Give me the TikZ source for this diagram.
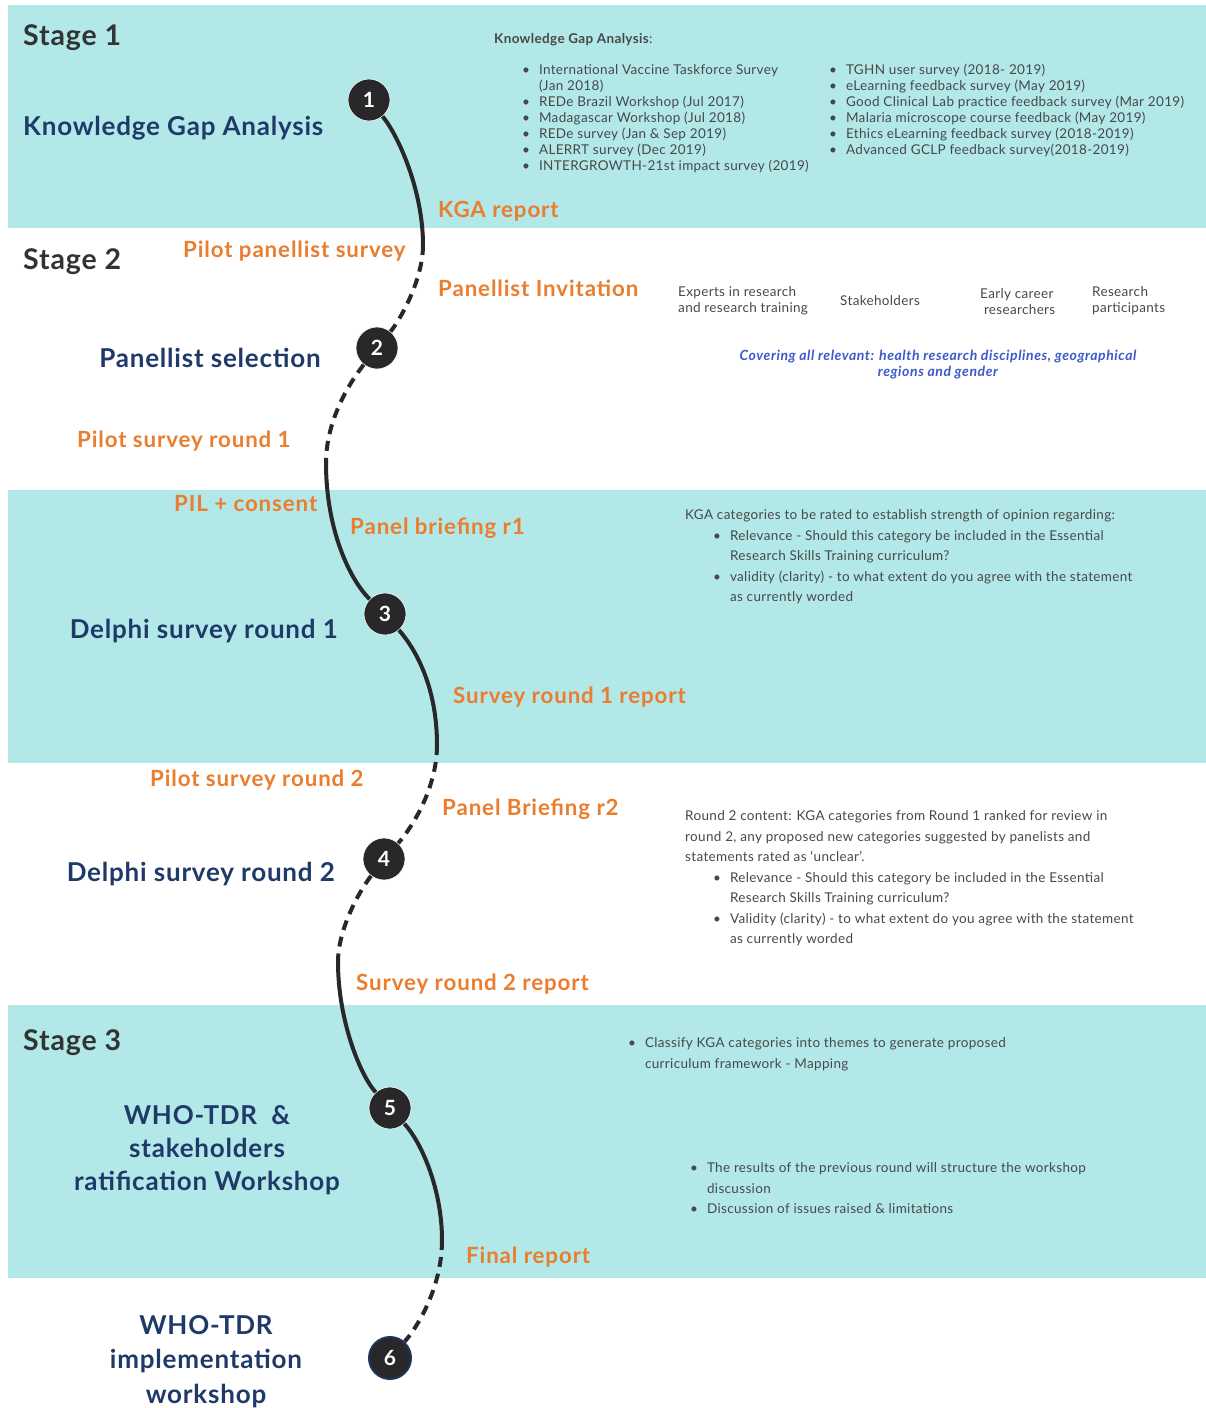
\documentclass[tikz,border=0pt]{standalone}
\usepackage{fontspec}
\setmainfont{Lato}
\newfontfamily\bodyfont[LetterSpace=2.5]{Lato}
\newfontfamily\headfont[LetterSpace=3]{Lato}
\newfontfamily\labfont[LetterSpace=4]{Lato}
\newfontfamily\covfont[LetterSpace=4]{Lato}
\definecolor{tealband}{RGB}{178,232,232}
\definecolor{orng}{RGB}{234,125,46}
\definecolor{navy}{RGB}{31,58,104}
\definecolor{headgray}{RGB}{51,51,51}
\definecolor{bodygray}{RGB}{72,72,72}
\definecolor{covblue}{RGB}{60,90,200}
\definecolor{dot}{RGB}{40,40,42}
\definecolor{ringnavy}{RGB}{30,55,90}
\begin{document}
\begin{tikzpicture}[x=1pt,y=-1pt,
  band/.style={fill=tealband,draw=none},
  stagehead/.style={anchor=west,inner sep=0,font=\headfont\bfseries\fontsize{28.5}{30}\selectfont,text=headgray},
  title/.style={inner sep=0,font=\headfont\bfseries\fontsize{26}{33}\selectfont,text=navy,align=center},
  olabel/.style={anchor=west,inner sep=0,font=\labfont\bfseries\fontsize{22.3}{24}\selectfont,text=orng},
  stepnum/.style={circle,fill=dot,draw=white,line width=0.6pt,minimum size=42pt,inner sep=0,text=white,font=\bfseries\fontsize{21}{24}\selectfont},
  body/.style={anchor=north west,inner sep=0,font=\bodyfont\fontsize{13.5}{16}\selectfont,text=bodygray,align=left},
  small/.style={anchor=west,inner sep=0,font=\bodyfont\fontsize{13.5}{16}\selectfont,text=bodygray,align=left},
  trail/.style={line width=4pt,draw=dot},
  dashtrail/.style={trail,dash pattern=on 10pt off 7pt}
]
\useasboundingbox (0,0) rectangle (1206,1408);
\fill[white] (0,0) rectangle (1206,1408);
% bands
\fill[band] (8,5) rectangle (1206,228);
\fill[band] (8,490) rectangle (1206,763);
\fill[band] (8,1005) rectangle (1206,1278);

% stage headings
\node[stagehead] (st1) at (23,38) {Stage 1};
\node[stagehead] (st2) at (23,262) {Stage 2};
\node[stagehead] (st3) at (23,1043) {Stage 3};

% titles
\node[title,anchor=west] (t1) at (23,128) {Knowledge Gap Analysis};
\node[title,anchor=east] (t2) at (321,358) {Panellist selection};
\node[title,anchor=east] (t3) at (338,631) {Delphi survey round 1};
\node[title,anchor=east] (t4) at (335,874) {Delphi survey round 2};
\node[title] (t5) at (207,1150) {WHO-TDR\ \ \&\\stakeholders\\ratification Workshop};
\node[title,anchor=north,font=\headfont\bfseries\fontsize{26}{34.5}\selectfont] (t6) at (206,1315) {WHO-TDR\\implementation\\workshop};

% step circles
\node[stepnum] (c1) at (369,100) {1};
\node[stepnum] (c2) at (377,348) {2};
\node[stepnum] (c3) at (385,614) {3};
\node[stepnum] (c4) at (384,859) {4};
\node[stepnum] (c5) at (390,1108) {5};
\node[stepnum,draw=ringnavy,line width=2pt] (c6) at (390,1358) {6};

% switch points
\coordinate (s1) at (423,245);
\coordinate (s2) at (326,463);
\coordinate (s3) at (437,745);
\coordinate (s4) at (338,962);
\coordinate (s5) at (442,1240);

\draw[trail] (c1) .. controls (398,135) and (423,190) .. (s1);
\draw[dashtrail] (s1) .. controls (423,280) and (400,320) .. (c2);
\draw[dashtrail] (c2) .. controls (350,382) and (326,420) .. (s2);
\draw[trail] (s2) .. controls (326,530) and (350,580) .. (c3);
\draw[trail] (c3) .. controls (418,652) and (437,690) .. (s3);
\draw[dashtrail] (s3) .. controls (437,790) and (410,830) .. (c4);
\draw[dashtrail] (c4) .. controls (358,893) and (338,930) .. (s4);
\draw[trail] (s4) .. controls (338,1020) and (360,1075) .. (c5);
\draw[trail] (c5) .. controls (422,1143) and (442,1190) .. (s5);
\draw[dashtrail] (s5) .. controls (442,1290) and (415,1330) .. (c6);

% orange labels
\node[olabel] (l1) at (438,211) {KGA report};
\node[olabel] (l2) at (183,251) {Pilot panellist survey};
\node[olabel] (l3) at (438,288) {Panellist Invitation};
\node[olabel] (l4) at (77,441) {Pilot survey round 1};
\node[olabel] (l5) at (174,504) {PIL + consent};
\node[olabel] (l6) at (350,528) {Panel briefing r1};
\node[olabel] (l7) at (453,697) {Survey round 1 report};
\node[olabel] (l8) at (150,780) {Pilot survey round 2};
\node[olabel] (l9) at (442,809) {Panel Briefing r2};
\node[olabel] (l10) at (356,984) {Survey round 2 report};
\node[olabel] (l11) at (466,1257) {Final report};

% stage 1 text
\node[small] (kgahead) at (494,40) {\textbf{Knowledge Gap Analysis}:};
\node[body] (kgalist1) at (522,63) {\begin{tabular}{@{}l@{\hspace{9pt}}l@{}}
\textbullet & International Vaccine Taskforce Survey\\
 & (Jan 2018)\\
\textbullet & REDe Brazil Workshop (Jul 2017)\\
\textbullet & Madagascar Workshop (Jul 2018)\\
\textbullet & REDe survey (Jan \& Sep 2019)\\
\textbullet & ALERRT survey (Dec 2019)\\
\textbullet & INTERGROWTH-21st impact survey (2019)
\end{tabular}};
\node[body] (kgalist2) at (829,63) {\begin{tabular}{@{}l@{\hspace{9pt}}l@{}}
\textbullet & TGHN user survey (2018- 2019)\\
\textbullet & eLearning feedback survey (May 2019)\\
\textbullet & Good Clinical Lab practice feedback survey (Mar 2019)\\
\textbullet & Malaria microscope course feedback (May 2019)\\
\textbullet & Ethics eLearning feedback survey (2018-2019)\\
\textbullet & Advanced GCLP feedback survey(2018-2019)
\end{tabular}};

% stage 2 text
\node[small] (g1) at (678,301) {Experts in research\\and research training};
\node[small] (g2) at (840,301) {Stakeholders};
\node[small] (g3) at (980,302) {Early career\\\ researchers};
\node[small] (g4) at (1092,301) {Research\\participants};
\node[inner sep=0,align=center,font=\covfont\bfseries\itshape\fontsize{14}{16}\selectfont,text=covblue] (cov) at (938,365) {Covering all relevant: health research disciplines, geographical\\regions and gender};

% delphi round 1 text
\node[body,font=\bodyfont\fontsize{13.5}{20.5}\selectfont] (r1txt) at (685,505) {\begin{tabular}{@{}l@{\hspace{9pt}}l@{}}
\multicolumn{2}{@{}l@{}}{KGA categories to be rated to establish strength of opinion regarding:}\\
\hspace{28pt}\textbullet & Relevance - Should this category be included in the Essential\\
 & Research Skills Training curriculum?\\
\hspace{28pt}\textbullet & validity (clarity) - to what extent do you agree with the statement\\
 & as currently worded
\end{tabular}};

% delphi round 2 text
\node[body,font=\bodyfont\fontsize{13.5}{20.5}\selectfont] (r2txt) at (685,806) {\begin{tabular}{@{}l@{\hspace{9pt}}l@{}}
\multicolumn{2}{@{}l@{}}{Round 2 content: KGA categories from Round 1 ranked for review in}\\
\multicolumn{2}{@{}l@{}}{round 2, any proposed new categories suggested by panelists and}\\
\multicolumn{2}{@{}l@{}}{statements rated as ‘unclear’.}\\
\hspace{28pt}\textbullet & Relevance - Should this category be included in the Essential\\
 & Research Skills Training curriculum?\\
\hspace{28pt}\textbullet & Validity (clarity) - to what extent do you agree with the statement\\
 & as currently worded
\end{tabular}};

% stage 3 text
\node[body,font=\bodyfont\fontsize{13.5}{20.5}\selectfont] (s3a) at (628,1033) {\begin{tabular}{@{}l@{\hspace{9pt}}l@{}}
\textbullet & Classify KGA categories into themes to generate proposed\\
 & curriculum framework - Mapping
\end{tabular}};
\node[body,font=\bodyfont\fontsize{13.5}{20.5}\selectfont] (s3b) at (690,1158) {\begin{tabular}{@{}l@{\hspace{9pt}}l@{}}
\textbullet & The results of the previous round will structure the workshop\\
 & discussion\\
\textbullet & Discussion of issues raised \& limitations
\end{tabular}};
\end{tikzpicture}
\end{document}
